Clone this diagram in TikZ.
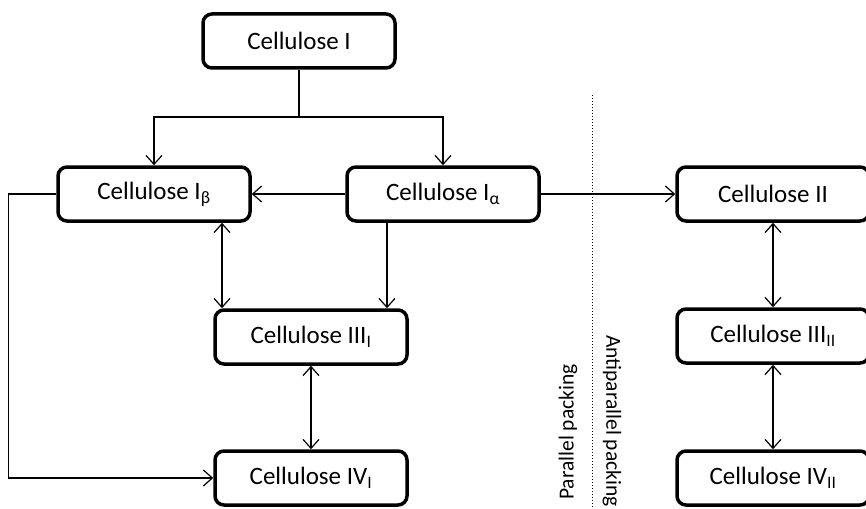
\documentclass[tikz,border=0pt]{standalone}
\usepackage{fontspec}
\setmainfont{Carlito}
\usetikzlibrary{arrows.meta}

\begin{document}
\begin{tikzpicture}[x=1pt,y=-1pt,
    cbox/.style={draw,line width=3.5pt,rounded corners=9pt,minimum width=192pt,minimum height=54pt,font=\fontsize{25}{29}\selectfont},
    conn/.style={line width=1.2pt,arrows={-Straight Barb[length=9pt,width=16pt]}},
    biconn/.style={line width=1.2pt,arrows={Straight Barb[length=9pt,width=16pt]-Straight Barb[length=9pt,width=16pt]}},
    pack/.style={font=\fontsize{21.5}{24}\selectfont}]
          \useasboundingbox (0,0) rectangle (866,508);
          \node [cbox] (cI) at (299,41) {Cellulose I};
          \node [cbox] (ib) at (154,194) {Cellulose I\textsubscript{β}};
          \node [cbox] (ia) at (443,194) {Cellulose I\textsubscript{α}};
          \node [cbox] (cII) at (773,194) {Cellulose II};
          \node [cbox] (iiiI) at (311,337) {Cellulose III\textsubscript{I}};
          \node [cbox] (ivI) at (311,478) {Cellulose IV\textsubscript{I}};
          \node [cbox] (iiiII) at (773,336) {Cellulose III\textsubscript{II}};
          \node [cbox] (ivII) at (773,478) {Cellulose IV\textsubscript{II}};
          \coordinate (split) at (299,117);
          \coordinate (lx) at (222,0);
          \coordinate (rx) at (387,0);
          \draw [line width=1.2pt] (cI.south) -- (split);
          \draw [conn] (split) -| (ib.north);
          \draw [conn] (split) -| (ia.north);
          \draw [conn] (ia.west) -- (ib.east);
          \draw [conn] (ia.east) -- (cII.west);
          \draw [biconn] (ib.south -| lx) -- (iiiI.north -| lx);
          \draw [conn] (ia.south -| rx) -- (iiiI.north -| rx);
          \draw [biconn] (iiiI) -- (ivI);
          \draw [conn] (ib.west) -- ++(-48,0) |- (ivI.west);
          \draw [biconn] (cII) -- (iiiII);
          \draw [biconn] (iiiII) -- (ivII);
          % packing divider
          \draw [dotted,line width=1pt] (592,95) coordinate (dtop) -- (592,508) coordinate (dbot);
          \node [pack,rotate=90] (par) at (568,432) {Parallel packing};
          \node [pack,rotate=-90] (anti) at (612,421) {Antiparallel packing};
\end{tikzpicture}
\end{document}
